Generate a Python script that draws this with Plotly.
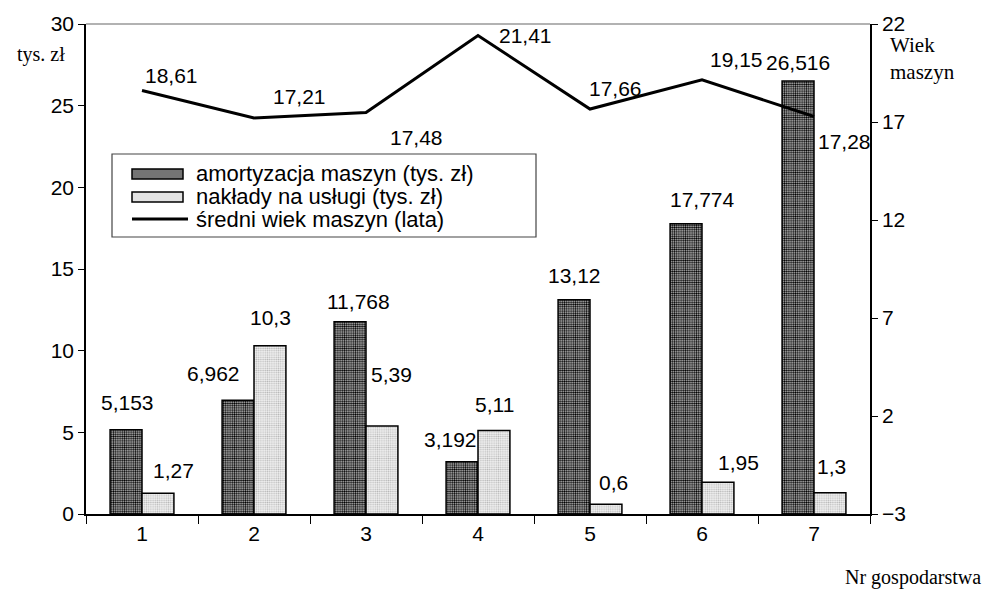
import plotly.graph_objects as go

# Farm numbers and their values
farms = ["1", "2", "3", "4", "5", "6", "7"]
amortyzacja = [5.153, 6.962, 11.768, 3.192, 13.12, 17.774, 26.516]
uslugi = [1.27, 10.3, 5.39, 5.11, 0.6, 1.95, 1.3]
wiek = [18.61, 17.21, 17.48, 21.41, 17.66, 19.15, 17.28]

left_ticks = [0, 5, 10, 15, 20, 25, 30]
right_ticks = [-3, 2, 7, 12, 17, 22]

# label nudges (px) relative to the top of each mark
amort_dx = [1, -25, 8, -12, 0, 16, 0]
amort_dy = [27, 27, 20, 22, 24, 24, 18]
usl_dx = [15, 0, 9, 0, 7, 20, 1]
usl_dy = [23, 28, 51, 26, 22, 20, 26]
wiek_dx = [29, 45, 50, 47, 25, 34, 30]
wiek_dy = [15, 21, -25, 0, 21, 20, -25]

SANS = "Arial, Liberation Sans, sans-serif"
SERIF = "Times New Roman, Liberation Serif, serif"

# plot area in pixels
L, R, T, B = 86, 870, 24, 514
W, H = 985, 592
BAR_HALF = 16  # half a bar width in px

DARK_PAT = dict(shape=".", size=2.2, solidity=0.5, fgcolor="#000000",
                bgcolor="#c4c4c4", fillmode="replace")
LIGHT_PAT = dict(shape=".", size=2.2, solidity=0.4, fgcolor="#b8b8b8",
                 bgcolor="#f2f2f2", fillmode="replace")


def pl(v):
    return f"{v:g}".replace(".", ",")


def px(x):
    return (x - L) / (R - L)


def py(y):
    return (B - y) / (B - T)


fig = go.Figure()

fig.add_trace(go.Bar(
    x=farms, y=amortyzacja, name="amortyzacja maszyn (tys. zł)",
    marker=dict(color="#808080", line=dict(color="black", width=1.5),
                pattern=DARK_PAT),
))
fig.add_trace(go.Bar(
    x=farms, y=uslugi, name="nakłady na usługi (tys. zł)",
    marker=dict(color="#e0e0e0", line=dict(color="black", width=1.5),
                pattern=LIGHT_PAT),
))
fig.add_trace(go.Scatter(
    x=farms, y=wiek, yaxis="y2", mode="lines",
    name="średni wiek maszyn (lata)",
    line=dict(color="black", width=3),
))

# value labels; on a category axis an annotation's x is the category index
label_font = dict(family=SANS, size=21, color="black")
annotations = []
for i, (v, dx, dy) in enumerate(zip(amortyzacja, amort_dx, amort_dy)):
    annotations.append(dict(x=i, y=v, xref="x", yref="y", text=pl(v),
                            showarrow=False, xanchor="center",
                            yanchor="middle", xshift=-BAR_HALF + dx,
                            yshift=dy, font=label_font))
for i, (v, dx, dy) in enumerate(zip(uslugi, usl_dx, usl_dy)):
    annotations.append(dict(x=i, y=v, xref="x", yref="y", text=pl(v),
                            showarrow=False, xanchor="center",
                            yanchor="middle", xshift=BAR_HALF + dx,
                            yshift=dy, font=label_font))
for i, (v, dx, dy) in enumerate(zip(wiek, wiek_dx, wiek_dy)):
    annotations.append(dict(x=i, y=v, xref="x", yref="y2", text=pl(v),
                            showarrow=False, xanchor="center",
                            yanchor="middle", xshift=dx, yshift=dy,
                            font=label_font))

# axis captions
annotations += [
    dict(text="tys. zł", xref="paper", yref="paper", x=px(41), y=py(55),
         xanchor="center", yanchor="middle", showarrow=False,
         font=dict(family=SERIF, size=20, color="black")),
    dict(text="Wiek<br>maszyn", xref="paper", yref="paper", x=px(888),
         y=py(31), xanchor="left", yanchor="top", align="left",
         showarrow=False, font=dict(family=SERIF, size=21, color="black")),
    dict(text="Nr gospodarstwa", xref="paper", yref="paper", x=px(983),
         y=py(577), xanchor="right", yanchor="middle", showarrow=False,
         font=dict(family=SERIF, size=20, color="black")),
]

# legend box drawn by hand
leg_font = dict(family=SANS, size=22, color="black")
leg_rows = [(173, fig.data[0].name), (196, fig.data[1].name),
            (219, fig.data[2].name)]
for yy, name in leg_rows:
    annotations.append(dict(text=name, xref="paper", yref="paper",
                            x=px(194), y=py(yy), xanchor="left",
                            yanchor="middle", showarrow=False,
                            font=leg_font))

shapes = [
    dict(type="line", xref="paper", yref="paper", x0=0, x1=1, y0=1, y1=1,
         line=dict(color="#999999", width=1.5)),
    dict(type="rect", xref="paper", yref="paper", x0=px(112), x1=px(536),
         y0=py(154), y1=py(237), fillcolor="white",
         line=dict(color="#444444", width=1.2), layer="above"),
    dict(type="rect", xref="paper", yref="paper", x0=px(132), x1=px(183),
         y0=py(169), y1=py(179), fillcolor="#747474",
         line=dict(color="black", width=1.5), layer="above"),
    dict(type="rect", xref="paper", yref="paper", x0=px(132), x1=px(183),
         y0=py(192), y1=py(202), fillcolor="#e2e2e2",
         line=dict(color="black", width=1.5), layer="above"),
    dict(type="line", xref="paper", yref="paper", x0=px(132), x1=px(188),
         y0=py(219), y1=py(219), line=dict(color="black", width=3),
         layer="above"),
]

fig.update_layout(
    width=W, height=H,
    margin=dict(l=L, r=W - R, t=T, b=H - B),
    paper_bgcolor="white", plot_bgcolor="white",
    barmode="group", bargap=0.43, bargroupgap=0,
    font=dict(family=SANS, size=21, color="black"),
    showlegend=False,
    xaxis=dict(
        type="category", range=[-0.5, 6.5],
        showline=True, linecolor="black", linewidth=1.5,
        ticks="outside", ticklen=8, tickcolor="black", tickson="boundaries",
        tickfont=dict(family=SANS, size=21),
        showgrid=False, zeroline=False,
    ),
    yaxis=dict(
        range=[0, 30], tickvals=left_ticks,
        showline=True, linecolor="black", linewidth=1.5,
        ticks="outside", ticklen=6, tickcolor="black",
        tickfont=dict(family=SANS, size=21),
        showgrid=False, zeroline=False,
    ),
    yaxis2=dict(
        range=[-3, 22], tickvals=right_ticks, overlaying="y", side="right",
        showline=True, linecolor="black", linewidth=1.5,
        ticks="outside", ticklen=6, tickcolor="black",
        tickfont=dict(family=SANS, size=21),
        showgrid=False, zeroline=False,
    ),
    shapes=shapes,
    annotations=annotations,
)

fig.write_html("out.html")
